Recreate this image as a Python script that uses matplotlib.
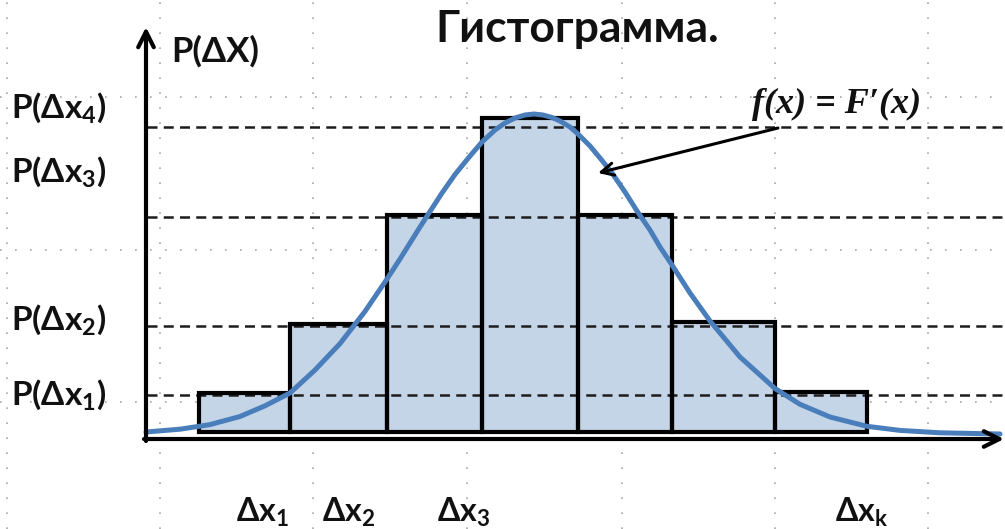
import numpy as np
import matplotlib
matplotlib.use("Agg")
from matplotlib import pyplot as plt

# Histogram bins (left edges + right edge) and bar tops
bin_edges = [199, 290, 387, 482, 578, 672, 775, 867]
bar_tops = [46, 115, 224, 321, 224, 117, 47]
bar_floor = 7

# Dashed reference levels P(dx1)..P(dx4)
levels = [44, 113, 222, 312]
level_labels = ["P(Δx$_1$)", "P(Δx$_2$)", "P(Δx$_3$)", "P(Δx$_4$)"]
level_label_y = [34, 109, 257, 321]

# Density curve f(x)
curve_x = [146, 180, 210, 240, 265, 290, 315, 340, 365, 387, 400, 410, 420, 430, 442,
           455, 470, 482, 495, 505, 515, 525, 534, 543, 552, 560, 570, 578, 590, 600,
           612, 625, 637, 650, 660, 672, 690, 710, 740, 775, 800, 830, 867, 900, 940, 1000]
curve_y = [7, 9.8, 14.4, 22.5, 33.2, 46, 69, 95.4, 127.6, 160, 180, 196, 212, 227.5, 246,
           264.5, 283, 297, 309, 316, 321, 324, 325, 324, 321.5, 318, 312, 305, 293, 281,
           266, 247, 228, 209, 192, 174, 146, 118, 82, 50.5, 34.7, 22, 12.7, 8.6, 6.2, 5]

# Bottom interval labels
bin_labels = ["Δx$_1$", "Δx$_2$", "Δx$_3$", "Δx$_k$"]
bin_label_x = [236, 322, 437, 835]

# background dotted grid
grid_x = [7, 160, 313, 467, 622, 775, 928]
grid_y = [342, 189, 37]

plt.rcParams["mathtext.fontset"] = "custom"
plt.rcParams["mathtext.rm"] = "Lato:bold"
plt.rcParams["mathtext.it"] = "Lato:bold"
plt.rcParams["mathtext.bf"] = "Lato:bold"
fam = ["Lato", "Open Sans", "DejaVu Sans"]

fig = plt.figure(figsize=(10.05, 5.29), dpi=100)
ax = fig.add_axes([0, 0, 1, 1])
ax.set_xlim(0, 1005)
ax.set_ylim(-90, 439)
ax.axis("off")

# grid
for gx in grid_x:
    ax.axvline(gx, color="#a8a8a8", lw=1.2, ls=(0, (1, 8)), zorder=1)
for gy in grid_y:
    ax.axhline(gy, color="#a8a8a8", lw=1.2, ls=(0, (1, 8)), zorder=1)

# bars
widths = np.diff(bin_edges)
heights = np.array(bar_tops) - bar_floor
ax.bar(bin_edges[:-1], heights, width=widths, bottom=bar_floor, align="edge",
       color="#c5d5e8", edgecolor="none", zorder=2)

# dashed levels
for lv in levels:
    ax.plot([147, 1005], [lv, lv], color="#1c1c1c", lw=1.8, dashes=(4, 2.5), zorder=3)

ax.bar(bin_edges[:-1], heights, width=widths, bottom=bar_floor, align="edge",
       color="none", edgecolor="black", lw=3, zorder=4)

# density curve
ax.plot(curve_x, curve_y, color="#4a7ebb", lw=3.6, solid_capstyle="round",
        solid_joinstyle="round", zorder=5)

# axes with arrows
ax.annotate("", xy=(146, 412), xytext=(146, -2),
            arrowprops=dict(arrowstyle="->", lw=3, mutation_scale=28, shrinkA=0, shrinkB=0,
                            color="black"), zorder=6)
ax.annotate("", xy=(1004, 0), xytext=(144, 0),
            arrowprops=dict(arrowstyle="->", lw=3, mutation_scale=28, shrinkA=0, shrinkB=0,
                            color="black"), zorder=6)

# pointer to the curve
ax.annotate("", xy=(598, 266), xytext=(778, 311),
            arrowprops=dict(arrowstyle="->", lw=2.2, mutation_scale=22, shrinkA=0, shrinkB=0,
                            color="black"), zorder=6)

# texts
ax.text(577, 439 - 42, "Гистограмма.", ha="center", va="baseline", fontsize=32,
        fontweight="bold", family=fam, color="#111111")
ax.text(171, 439 - 62, "P(ΔX)", ha="left", va="baseline", fontsize=25,
        fontweight="bold", family=fam, color="#111111")
for lab, ly in zip(level_labels, level_label_y):
    ax.text(11, ly, lab, ha="left", va="baseline", fontsize=24,
            fontweight="bold", family=fam, color="#111111")
for lab, lx in zip(bin_labels, bin_label_x):
    ax.text(lx, 439 - 522, lab, ha="left", va="baseline", fontsize=23,
            fontweight="bold", family=fam, color="#111111")
ax.text(837, 439 - 113, "f(x) = F′(x)", ha="center", va="baseline", fontsize=26,
        fontweight="bold", style="italic", family=["Liberation Serif", "DejaVu Serif"],
        color="#111111")

fig.savefig("out.png", dpi=100)
